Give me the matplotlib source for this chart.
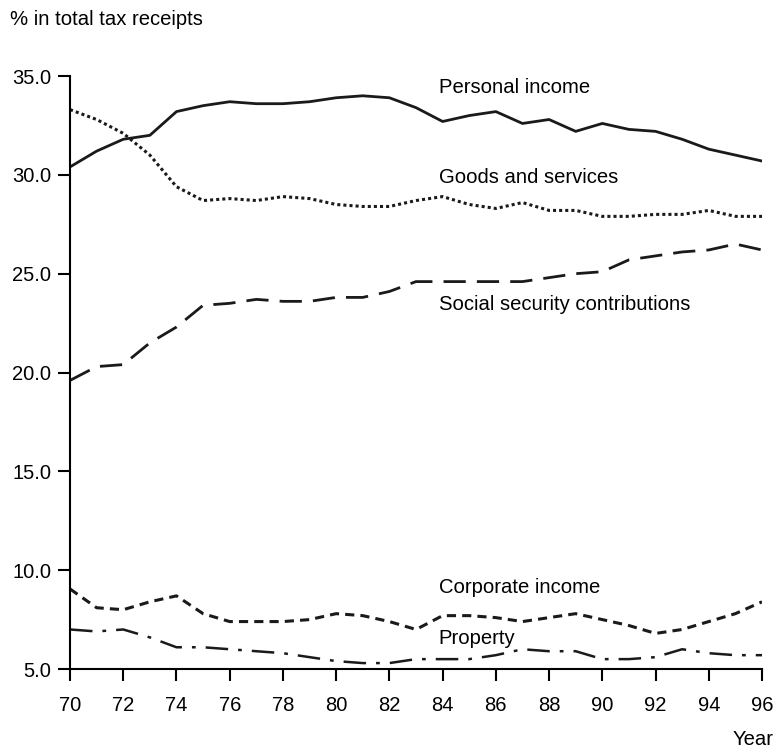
import matplotlib
matplotlib.use("Agg")
import matplotlib.pyplot as plt
import numpy as np

plt.rcParams['font.family'] = ['Liberation Sans', 'DejaVu Sans']

years = np.arange(70, 97)

personal = [30.4, 31.2, 31.8, 32.0, 33.2, 33.5, 33.7, 33.6, 33.6, 33.7, 33.9, 34.0, 33.9,
            33.4, 32.7, 33.0, 33.2, 32.6, 32.8, 32.2, 32.6, 32.3, 32.2, 31.8, 31.3, 31.0, 30.7]
goods = [33.3, 32.8, 32.1, 31.0, 29.4, 28.7, 28.8, 28.7, 28.9, 28.8, 28.5, 28.4, 28.4,
         28.7, 28.9, 28.5, 28.3, 28.6, 28.2, 28.2, 27.9, 27.9, 28.0, 28.0, 28.2, 27.9, 27.9]
social = [19.6, 20.3, 20.4, 21.5, 22.3, 23.4, 23.5, 23.7, 23.6, 23.6, 23.8, 23.8, 24.1,
          24.6, 24.6, 24.6, 24.6, 24.6, 24.8, 25.0, 25.1, 25.7, 25.9, 26.1, 26.2, 26.5, 26.2]
corporate = [9.05, 8.1, 8.0, 8.4, 8.7, 7.8, 7.4, 7.4, 7.4, 7.5, 7.8, 7.7, 7.4,
             7.0, 7.7, 7.7, 7.6, 7.4, 7.6, 7.8, 7.5, 7.2, 6.8, 7.0, 7.4, 7.8, 8.4]
prop = [7.0, 6.9, 7.0, 6.6, 6.1, 6.1, 6.0, 5.9, 5.8, 5.6, 5.4, 5.3, 5.3,
        5.5, 5.5, 5.5, 5.7, 6.0, 5.9, 5.9, 5.5, 5.5, 5.6, 6.0, 5.8, 5.7, 5.7]

fig = plt.figure(figsize=(7.77, 7.49), dpi=100)
ax = fig.add_axes([0.0901, 0.1068, 0.8906, 0.7917])

c = '#1a1a1a'
ax.plot(years, personal, color=c, lw=2.0, ls='-')
ax.plot(years, goods, color=c, lw=2.2, ls=(0, (1, 1)))
ax.plot(years, social, color=c, lw=2.0, ls=(0, (8, 4)))
ax.plot(years, corporate, color=c, lw=2.2, ls=(0, (3, 2)))
ax.plot(years, prop, color=c, lw=1.8, ls=(0, (9, 4, 1.5, 4)))

ax.set_xlim(70, 96)
ax.set_ylim(5, 35)
ax.set_xticks(np.arange(70, 97, 2))
ax.set_yticks(np.arange(5, 36, 5))
ax.set_yticklabels(['%.1f' % v for v in np.arange(5, 36, 5)])
for s in ['top', 'right']:
    ax.spines[s].set_visible(False)
for s in ['left', 'bottom']:
    ax.spines[s].set_linewidth(1.5)
ax.tick_params(direction='out', length=8.5, width=1.5, labelsize=14.5, pad=5)
ax.tick_params(axis='x', pad=11)

fs = 14.6
lx = 83.85
ax.text(lx, 34.4, 'Personal income', fontsize=fs, va='center')
ax.text(lx, 29.85, 'Goods and services', fontsize=fs, va='center')
ax.text(lx, 23.45, 'Social security contributions', fontsize=fs, va='center')
ax.text(lx, 9.1, 'Corporate income', fontsize=fs, va='center')
ax.text(lx, 6.55, 'Property', fontsize=fs, va='center')

fig.text(0.013, 0.974, '% in total tax receipts', fontsize=fs, va='center', ha='left')
fig.text(0.995, 0.013, 'Year', fontsize=fs, va='center', ha='right')

fig.savefig('out.png', dpi=100)
